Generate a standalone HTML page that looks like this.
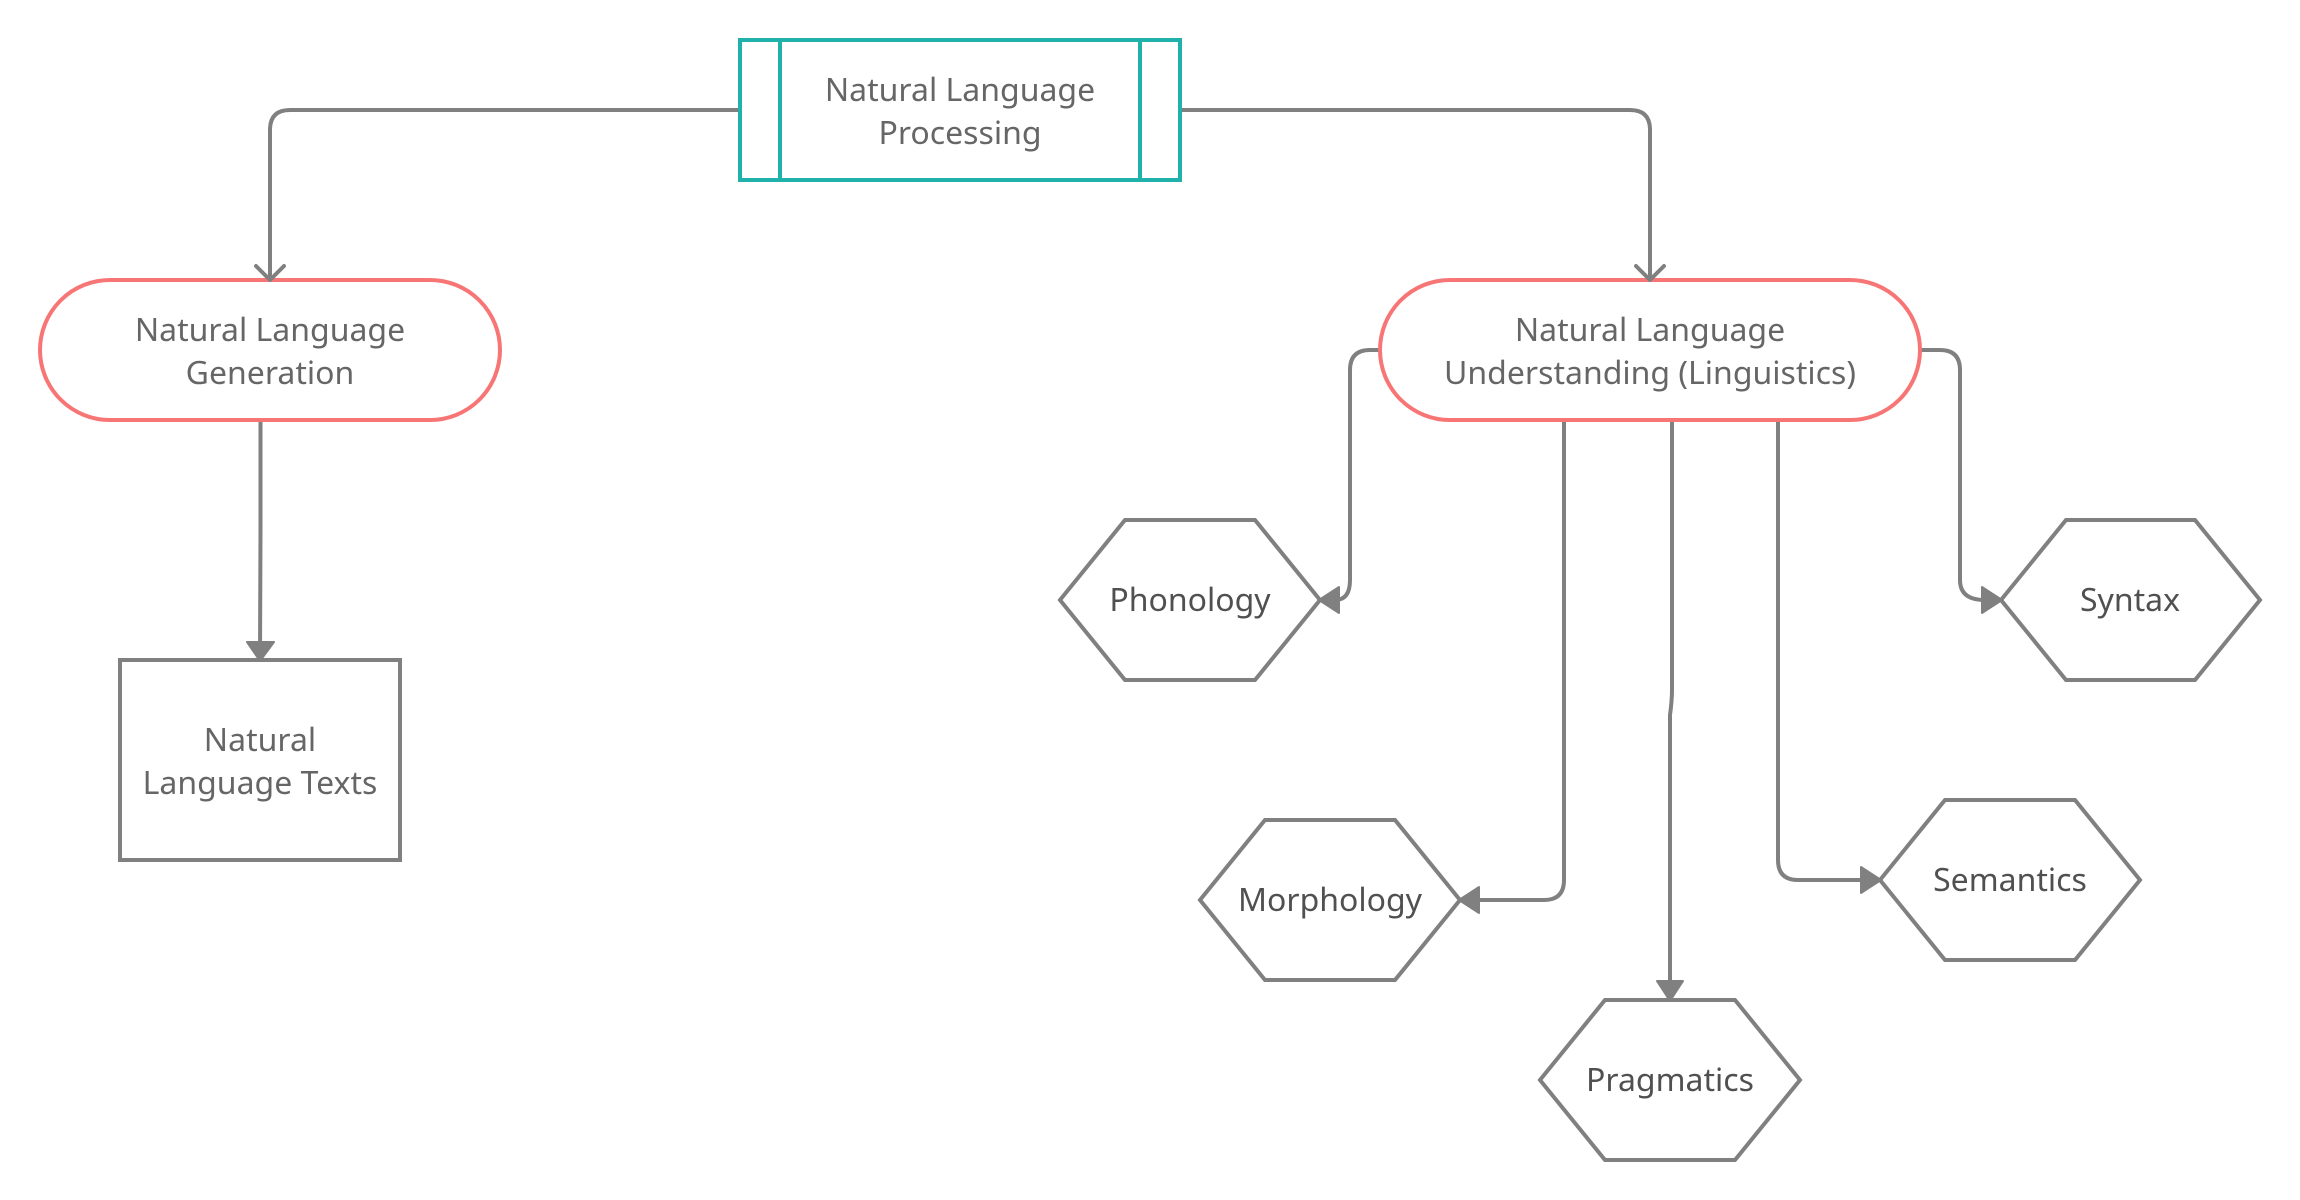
<!DOCTYPE html>
<html><head><meta charset="utf-8"><style>
html,body{margin:0;padding:0;background:#fff;width:2300px;height:1200px;overflow:hidden}
svg{display:block}
text{font-family:"Noto Sans","Open Sans","DejaVu Sans",sans-serif;font-size:32px;fill:#666;text-anchor:middle}
text.h{fill:#505050}
.c{fill:none;stroke:#808080;stroke-width:4}
.n{fill:#fff;stroke:#808080;stroke-width:4}
.p{fill:#fff;stroke:#f87575;stroke-width:4}
.t{fill:#fff;stroke:#20b2aa;stroke-width:4}
.a{fill:#808080;stroke:#808080;stroke-width:2;stroke-linejoin:round}
.o{fill:none;stroke:#808080;stroke-width:4;stroke-linecap:round;stroke-linejoin:round}
</style></head><body>
<svg width="2300" height="1200" viewBox="0 0 2300 1200" xmlns="http://www.w3.org/2000/svg">
<path class="c" d="M740 110H290Q270 110 270 130V280"/>
<path class="c" d="M1180 110H1630Q1650 110 1650 130V280"/>
<path class="c" d="M260.500 420V530L260 660"/>
<path class="c" d="M1380 350H1370Q1350 350 1350 370V580Q1350 600 1335 600"/>
<path class="c" d="M1920 350H1940Q1960 350 1960 370V580Q1960 600 1985 600"/>
<path class="c" d="M1564 420V880Q1564 900 1544 900H1475"/>
<path class="c" d="M1672 420V690Q1672 700 1670 715V985"/>
<path class="c" d="M1778 420V860Q1778 880 1798 880H1865"/>

<rect class="t" x="740" y="40" width="440" height="140"/>
<path class="t" d="M780 40V180M1140 40V180"/>
<rect class="p" x="40" y="280" width="460" height="140" rx="70"/>
<rect class="p" x="1380" y="280" width="540" height="140" rx="70"/>
<rect class="n" x="120" y="660" width="280" height="200"/>
<path class="n" d="M1060 600L1125 520H1255L1320 600L1255 680H1125Z"/>
<path class="n" d="M2001 600L2066 520H2195L2260 600L2195 680H2066Z"/>
<path class="n" d="M1200 900L1265 820H1395L1460 900L1395 980H1265Z"/>
<path class="n" d="M1880 880L1945 800H2075L2140 880L2075 960H1945Z"/>
<path class="n" d="M1540 1080L1605 1000H1735L1800 1080L1735 1160H1605Z"/>

<path class="o" d="M256 266L270 280L284 266"/>
<path class="o" d="M1636 266L1650 280L1664 266"/>
<path class="a" d="M247 642H274L260 661Z"/>
<path class="a" d="M1319 600L1339 587V613Z"/>
<path class="a" d="M2002 600L1982 587V613Z"/>
<path class="a" d="M1459 900L1479 887V913Z"/>
<path class="a" d="M1881 880L1861 867V893Z"/>
<path class="a" d="M1657 981H1683L1670 1001Z"/>

<text x="960" y="101">Natural Language</text>
<text x="960" y="144">Processing</text>
<text x="270" y="341">Natural Language</text>
<text x="270" y="384">Generation</text>
<text x="1650" y="341">Natural Language</text>
<text x="1650" y="384">Understanding (Linguistics)</text>
<text x="260" y="751">Natural</text>
<text x="260" y="794">Language Texts</text>
<text class="h" x="1190" y="611">Phonology</text>
<text class="h" x="2130" y="611">Syntax</text>
<text class="h" x="1330" y="911">Morphology</text>
<text class="h" x="2010" y="891">Semantics</text>
<text class="h" x="1670" y="1091">Pragmatics</text>
</svg>
</body></html>
